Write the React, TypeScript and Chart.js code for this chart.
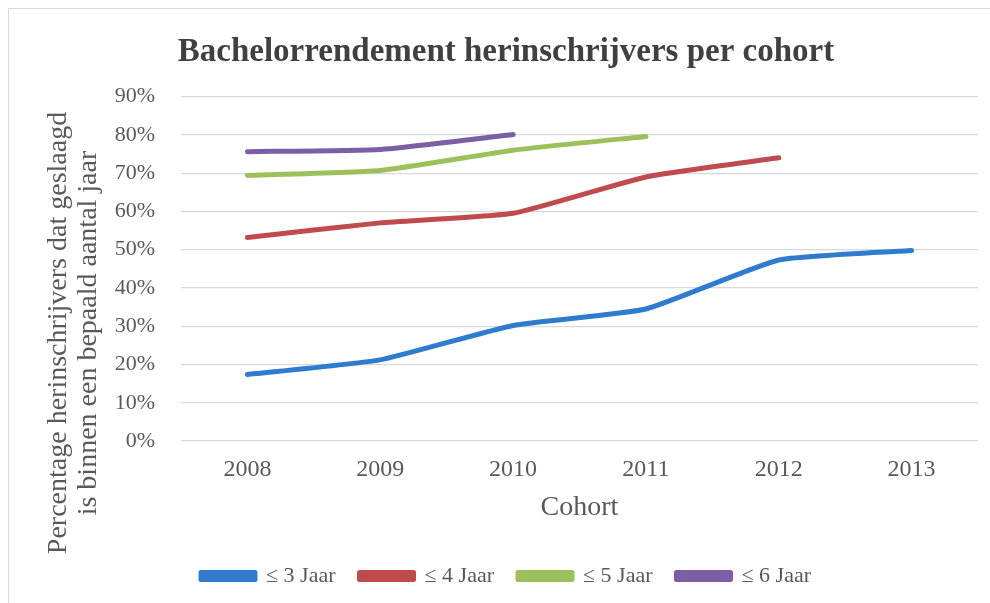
import React, { useEffect, useRef } from "react";
import { Chart, registerables } from "chart.js";

Chart.register(...registerables);

const TITLE = "Bachelorrendement herinschrijvers per cohort";
const Y_TITLE = ["Percentage herinschrijvers dat geslaagd", "is binnen een bepaald aantal jaar"];
const X_TITLE = "Cohort";
const cohorts = ["2008", "2009", "2010", "2011", "2012", "2013"];
const jaar3 = [17.4, 21.2, 30.2, 34.5, 47.3, 49.8];
const jaar4 = [53.2, 57.0, 59.5, 69.0, 74.0, null];
const jaar5 = [69.4, 70.7, 76.0, 79.6, null, null];
const jaar6 = [75.6, 76.2, 80.1, null, null, null];
const seriesNames = ["≤ 3 Jaar", "≤ 4 Jaar", "≤ 5 Jaar", "≤ 6 Jaar"];
const seriesColors = ["#2F7CCF", "#BF4B4F", "#9DC15A", "#7A5FA6"];

const FONT = "'Liberation Serif', 'DejaVu Serif', serif";
const TEXT = "#595959";

const yTitlePlugin = {
  id: "yTitlePlugin",
  afterDraw(chart: any) {
    const ctx = chart.ctx;
    ctx.save();
    ctx.fillStyle = TEXT;
    ctx.font = `28px ${FONT}`;
    ctx.textAlign = "center";
    ctx.textBaseline = "middle";
    const cy = 333;
    const xs = [59, 89];
    Y_TITLE.forEach((t, i) => {
      ctx.save();
      ctx.translate(xs[i], cy);
      ctx.rotate(-Math.PI / 2);
      ctx.fillText(t, 0, 0);
      ctx.restore();
    });
    ctx.restore();
  },
};

export default function App() {
  const ref = useRef<HTMLCanvasElement>(null);
  useEffect(() => {
    if (!ref.current) return;
    const data = [jaar3, jaar4, jaar5, jaar6];
    const chart = new Chart(ref.current, {
      type: "line",
      data: {
        labels: cohorts,
        datasets: data.map((d, i) => ({
          label: seriesNames[i],
          data: d,
          borderColor: seriesColors[i],
          backgroundColor: seriesColors[i],
          borderWidth: 5,
          pointRadius: 0,
          tension: 0.15,
          borderCapStyle: "round" as const,
          borderJoinStyle: "round" as const,
          spanGaps: false,
        })),
      },
      options: {
        animation: false,
        responsive: false,
        maintainAspectRatio: false,
        layout: { padding: { left: 34, right: 12, top: 0, bottom: 6 } },
        plugins: {
          title: {
            display: true,
            text: TITLE,
            color: "#404040",
            font: { family: FONT, size: 33, weight: "bold" },
            padding: { top: 33, bottom: 24 },
          },
          legend: {
            position: "bottom",
            labels: {
              color: TEXT,
              font: { family: FONT, size: 22 },
              boxWidth: 54,
              boxHeight: 7,
              padding: 24,
            },
          },
          tooltip: { enabled: false },
        },
        scales: {
          x: {
            offset: true,
            grid: { display: false },
            border: { display: false },
            ticks: { color: TEXT, font: { family: FONT, size: 24 }, padding: 6 },
            title: {
              display: true,
              text: X_TITLE,
              color: TEXT,
              font: { family: FONT, size: 28 },
              padding: { top: 6, bottom: 17 },
            },
            afterFit(scale: any) {
              scale.height = 100;
            },
          },
          y: {
            min: 0,
            max: 90,
            grid: { color: "#D9D9D9", lineWidth: 1.2, drawTicks: false },
            border: { display: false },
            ticks: {
              stepSize: 10,
              color: TEXT,
              font: { family: FONT, size: 22 },
              padding: 26,
              callback: (v: any) => v + "%",
            },
            afterFit(scale: any) {
              scale.width = 147;
            },
          },
        },
      },
      plugins: [yTitlePlugin],
    });
    return () => chart.destroy();
  }, []);
  return (
    <div style={{ position: "fixed", left: 0, top: 0, width: 990, height: 603, background: "#fff" }}>
      <div style={{ position: "absolute", left: 8, top: 8, right: 0, bottom: 0, borderLeft: "1px solid #d9d9d9", borderTop: "1px solid #d9d9d9" }} />
      <canvas ref={ref} width={990} height={603} style={{ position: "absolute", left: 0, top: 0 }} />
    </div>
  );
}
